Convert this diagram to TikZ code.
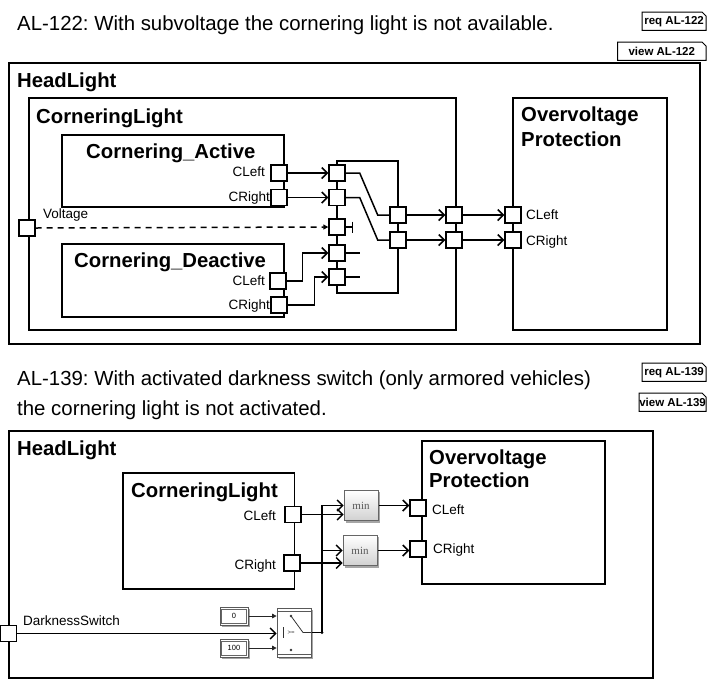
\documentclass[tikz,border=0pt]{standalone}
\usepackage{fontspec}
\setmainfont{Liberation Sans}
\newfontfamily\mnfont{Liberation Serif}
\usetikzlibrary{arrows.meta,calc}
\pgfdeclarelayer{bg}
\pgfsetlayers{bg,main}
\frenchspacing
\newcommand\tagbox[1]{\draw[line width=1pt] (#1.south west) -- (#1.north west) -- ([xshift=-4pt]#1.north east) -- ([yshift=-4pt]#1.north east) -- (#1.south east) -- cycle;}
\tikzset{
  blk/.style={draw, line width=1.5pt, inner sep=0, anchor=north west},
  port/.style={draw, fill=white, line width=1.4pt, minimum size=16pt, inner sep=0},
  wire/.style={line width=1.5pt},
  arr/.style={wire, -{Straight Barb[length=5.5pt,width=11pt,line width=1.5pt]}},
  sarr/.style={line width=0.8pt, draw=black!85, -{Triangle[length=4.5pt,width=4.5pt]}},
  ttl/.style={font=\fontsize{20.3}{24}\selectfont\bfseries, anchor=base west, inner sep=0},
  head/.style={font=\fontsize{20.4}{24}\selectfont, anchor=base west, inner sep=0},
  plbl/.style={font=\fontsize{13.5}{16}\selectfont, inner sep=0},
  tag/.style={font=\fontsize{11.5}{13}\selectfont\bfseries, inner xsep=2pt, inner ysep=0pt, minimum height=18pt, anchor=north east},
  minb/.style={draw=black!60, line width=0.7pt, top color=white, bottom color=black!18, minimum width=34pt, minimum height=30pt, inner sep=0, font=\mnfont\fontsize{11}{12}\selectfont, text=black!65},
  cst/.style={draw=black!65, line width=0.7pt, fill=white, minimum width=28pt, minimum height=18pt, inner sep=0, font=\fontsize{7.5}{9}\selectfont},
  swb/.style={draw=black!65, line width=0.7pt, fill=white, minimum width=34pt, minimum height=49pt, inner sep=0},
}
\begin{document}
\begin{tikzpicture}[x=1pt,y=-1pt]
\useasboundingbox (0,0) rectangle (708,678);

% ================= TOP =================
\node[head] (t1) at (17,30) {AL-122: With subvoltage the cornering light is not available.};
\node[tag, minimum width=56pt] (rq1) at (706,12) {req AL-122};
\tagbox{rq1}
\node[tag, minimum width=88pt] (vw1) at (706,42) {view AL-122};
\tagbox{vw1}

\node[blk, minimum width=691pt, minimum height=281pt] (hl1) at (8,62) {};
\node[ttl] (hl1t) at (17,87) {HeadLight};
\node[blk, minimum width=427pt, minimum height=232pt] (cl1) at (28,97) {};
\node[ttl] (cl1t) at (36,123) {CorneringLight};
\node[blk, minimum width=154pt, minimum height=232pt] (op1) at (512,97) {};
\node[ttl] (op1a) at (521,121) {Overvoltage};
\node[ttl] (op1b) at (521,146) {Protection};
\node[blk, minimum width=222pt, minimum height=72pt] (act) at (61,134) {};
\node[ttl] (actt) at (86,158) {Cornering\_Active};
\node[blk, minimum width=222pt, minimum height=73pt] (dea) at (61,243) {};
\node[ttl] (deat) at (74,267) {Cornering\_Deactive};

% ports
\node[port] (ac1) at (279,173) {};
\node[port] (ac2) at (279,197.5) {};
\node[port] (dc1) at (278,281) {};
\node[port] (dc2) at (279,305) {};
\node[port] (volt) at (27,228) {};
\node[port] (b1) at (337,173) {};
\node[port] (b2) at (337,197.5) {};
\node[port] (b3) at (337,227) {};
\node[port] (b4) at (337,253) {};
\node[port] (b5) at (337,277) {};
\node[port] (m1) at (398,215) {};
\node[port] (m2) at (398,240) {};
\node[port] (o1) at (454,215) {};
\node[port] (o2) at (454,240) {};
\node[port] (p1) at (513,215) {};
\node[port] (p2) at (513,240) {};

% labels
\node[plbl, anchor=base east] (l1) at (265,176.5) {CLeft};
\node[plbl, anchor=base east] (l2) at (270,201) {CRight};
\node[plbl, anchor=base east] (l3) at (265,285.5) {CLeft};
\node[plbl, anchor=base east] (l4) at (270,309.5) {CRight};
\node[plbl, anchor=base west] (l5) at (43,218) {Voltage};
\node[plbl, anchor=base west] (l6) at (526,219.5) {CLeft};
\node[plbl, anchor=base west] (l7) at (526,245) {CRight};

\coordinate (vt) at (353,227);
\coordinate (s4) at (360,253);
\coordinate (s5) at (360,277);

\begin{pgfonlayer}{bg}
\draw[wire] (337,161) rectangle (398,293);
\draw[arr] (ac1.east) -- (b1.west);
\draw[arr] (ac2.east) -- (b2.west);
\draw[wire, dash pattern=on 6pt off 5pt, -{Triangle[length=5pt,width=5pt]}] (volt.east) -- (b3.west);
\draw[wire, -{Bar[width=11pt,line width=1.5pt]}] (b3.east) -- (vt);
\draw[wire] (b4.east) -- (s4);
\draw[wire] (b5.east) -- (s5);
\draw[arr] (dc1.east) -- ++(16,0) |- (b4.west);
\draw[arr] (dc2.east) -- ++(27,0) |- (b5.west);
\draw[wire] (b1.east) -- ++(14,0) -- ++(18,42) -- (m1.west);
\draw[wire] (b2.east) -- ++(14,0) -- ++(18,42.5) -- (m2.west);
\draw[arr] (m1.east) -- (o1.west);
\draw[arr] (m2.east) -- (o2.west);
\draw[arr] (o1.east) -- (p1.west);
\draw[arr] (o2.east) -- (p2.west);
\end{pgfonlayer}

% ================= BOTTOM =================
\node[head] (t2) at (17,385) {AL-139: With activated darkness switch (only armored vehicles)};
\node[head] (t3) at (17,415) {the cornering light is not activated.};
\node[tag, minimum width=56pt] (rq2) at (706,363) {req AL-139};
\tagbox{rq2}
\node[tag, inner xsep=0pt, minimum width=56pt] (vw2) at (706,393) {view AL-139};
\tagbox{vw2}

\node[blk, minimum width=644pt, minimum height=247pt] (hl2) at (8,430) {};
\node[ttl] (hl2t) at (17,455) {HeadLight};
\node[blk, minimum width=171.5pt, minimum height=116pt] (cl2) at (122,472) {};
\node[ttl] (cl2t) at (131,497) {CorneringLight};
\node[blk, minimum width=183pt, minimum height=143pt] (op2) at (421,440) {};
\node[ttl] (op2a) at (429,464) {Overvoltage};
\node[ttl] (op2b) at (429,487.5) {Protection};

\node[port] (q1) at (293,514.5) {};
\node[port] (q2) at (292,563) {};
\node[port] (r1) at (418,508) {};
\node[port] (r2) at (418,549) {};
\node[port] (ds) at (8.5,633.5) {};

\node[plbl, anchor=base east] (l8) at (276,520.5) {CLeft};
\node[plbl, anchor=base east] (l9) at (276,569) {CRight};
\node[plbl, anchor=base west] (l10) at (432,514) {CLeft};
\node[plbl, anchor=base west] (l11) at (433,553.5) {CRight};
\node[plbl, anchor=base west] (l12) at (23,625) {DarknessSwitch};

\node[minb] (mn1) at (361,505.5) {min};
\node[minb] (mn2) at (360,550.5) {min};
\node[cst] (c0) at (234,616) {0};
\node[cst] (c100) at (234,648) {100};
\node[swb] (sw) at (294,632.5) {};
\coordinate (j) at (322,632.5);

% block decorations
\draw[black!60, line width=0.5pt] ([shift={(2pt,2.5pt)}]c0.south west) rectangle ([shift={(-2pt,-2.5pt)}]c0.north east);
\draw[black!60, line width=0.5pt] ([shift={(2pt,2.5pt)}]c100.south west) rectangle ([shift={(-2pt,-2.5pt)}]c100.north east);
\draw[black!65, line width=0.7pt] ([yshift=-3.5pt]sw.north west) -- ([yshift=-3.5pt]sw.north east);
\draw[black!65, line width=0.7pt] ([yshift=3.5pt]sw.south west) -- ([yshift=3.5pt]sw.south east);
\fill[black!80] (291,616) circle (1.3pt);
\fill[black!80] (291,650) circle (1.3pt);
\draw[black!80, line width=0.8pt] (291,616) -- (303,632.5) -- (sw.east);
\draw[black!80, line width=0.8pt] (283,627) -- (283,638);
\node[inner sep=0, font=\fontsize{6}{6}\selectfont, text=black!80] (ge) at (291,632.5) {>=};

\begin{pgfonlayer}{bg}
\foreach \n in {mn1,mn2,c0,c100,sw}
  \fill[black!35] ([shift={(2pt,-2pt)}]\n.south west) rectangle ([shift={(2pt,-2pt)}]\n.north east);
\draw[arr] (q1.east) -- (q1.east -| mn1.west);
\draw[arr] (q2.east) -- (q2.east -| mn2.west);
\draw[wire] (sw.east) -- (j);
\draw[arr] (j) |- (mn1.west);
\draw[arr] (j) |- (mn2.west);
\draw[arr] (mn1.east) -- (mn1.east -| r1.west);
\draw[arr] (mn2.east) -- (mn2.east -| r2.west);
\draw[sarr] (c0.east) -- (c0.east -| sw.west);
\draw[sarr] (c100.east) -- (c100.east -| sw.west);
\draw[arr] (ds.east) -- (ds.east -| sw.west);
\end{pgfonlayer}
\fill (j) circle (1.5pt);
\end{tikzpicture}
\end{document}
